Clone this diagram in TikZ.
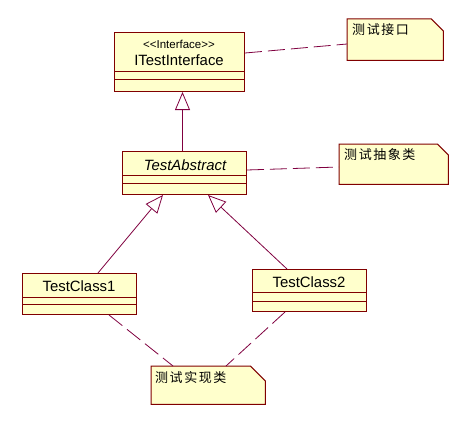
\documentclass[tikz,border=0pt]{standalone}
\usepackage{fontspec}
\setmainfont{Liberation Sans}
\newfontfamily\cjk[LetterSpace=12]{Noto Sans CJK SC}
\usetikzlibrary{arrows.meta}
\definecolor{umlfill}{RGB}{255,255,204}
\definecolor{umlborder}{RGB}{128,0,0}
\definecolor{umlline}{RGB}{128,0,64}
\tikzset{
  cls/.style={draw=umlborder, fill=umlfill, line width=1pt, inner sep=0pt, anchor=north west},
  comp/.style={draw=umlborder, line width=1pt},
  nm/.style={font=\fontsize{14.9}{16}\selectfont, text=black, inner sep=0pt},
  st/.style={font=\fontsize{11.5}{13}\selectfont, text=black, inner sep=0pt},
  noteframe/.style={draw=umlborder, fill=umlfill, line width=1pt},
  notearea/.style={inner sep=0pt, anchor=north west},
  notetxt/.style={font=\cjk\fontsize{13}{15}\selectfont, text=black, anchor=west, inner sep=0pt},
  gen/.style={draw=umlline, line width=0.8pt, -{Triangle[length=18pt,width=15pt,fill=white]}},
  noteline/.style={draw=umlline, line width=0.8pt, dash pattern=on 17pt off 6pt}
}
\newcommand\umlnote[2]{%
  \path[noteframe] (#1.north west) -- ([xshift=-#2]#1.north east) -- ([yshift=-#2]#1.north east)
    -- (#1.south east) -- (#1.south west) -- cycle;}
\begin{document}
\begin{tikzpicture}[x=1pt,y=-1pt]
\useasboundingbox (0,0) rectangle (471,428);
\fill[white] (0,0) rectangle (471,428);

% classes
\node[cls, minimum width=130pt, minimum height=59pt] (iface) at (114,32) {};
\draw[comp] ([yshift=-40pt]iface.north west) -- ([yshift=-40pt]iface.north east);
\draw[comp] ([yshift=-47pt]iface.north west) -- ([yshift=-47pt]iface.north east);
\node[st] (ifaceSt) at (179,44) {{<}{<}Interface{>}{>}};
\node[nm] (ifaceName) at (179,60.5) {ITestInterface};

\node[cls, minimum width=124pt, minimum height=43pt] (abs) at (122,151) {};
\draw[comp] ([yshift=-24pt]abs.north west) -- ([yshift=-24pt]abs.north east);
\draw[comp] ([yshift=-32pt]abs.north west) -- ([yshift=-32pt]abs.north east);
\node[nm, font=\fontsize{14.9}{16}\selectfont\itshape] (absName) at (185,165) {TestAbstract};

\node[cls, minimum width=114pt, minimum height=41pt] (tc1) at (22,273) {};
\draw[comp] ([yshift=-24pt]tc1.north west) -- ([yshift=-24pt]tc1.north east);
\draw[comp] ([yshift=-31pt]tc1.north west) -- ([yshift=-31pt]tc1.north east);
\node[nm] (tc1Name) at (79,286) {TestClass1};

\node[cls, minimum width=114pt, minimum height=42pt] (tc2) at (252,269) {};
\draw[comp] ([yshift=-23pt]tc2.north west) -- ([yshift=-23pt]tc2.north east);
\draw[comp] ([yshift=-32pt]tc2.north west) -- ([yshift=-32pt]tc2.north east);
\node[nm] (tc2Name) at (309,282) {TestClass2};

% notes
\node[notearea, minimum width=96pt, minimum height=41pt] (note1) at (347,19) {};
\umlnote{note1}{12pt}
\node[notetxt] (note1t) at (352,30) {测试接口};

\node[notearea, minimum width=109pt, minimum height=40pt] (note2) at (339,144) {};
\umlnote{note2}{11pt}
\node[notetxt] (note2t) at (344,155) {测试抽象类};

\node[notearea, minimum width=114pt, minimum height=38pt] (note3) at (151,366) {};
\umlnote{note3}{15pt}
\node[notetxt] (note3t) at (155,378) {测试实现类};

% generalizations
\draw[gen] ([xshift=-2pt]abs.north) -- ([xshift=3pt]iface.south);
\draw[gen] ([xshift=76pt]tc1.north west) -- ([xshift=41pt]abs.south west);
\draw[gen] ([xshift=35pt]tc2.north west) -- ([xshift=86pt]abs.south west);

% note anchors
\draw[noteline] ([yshift=-21pt]iface.north east) -- ([yshift=-25pt]note1.north west);
\draw[noteline] ([yshift=-19pt]abs.north east) -- ([yshift=-23pt]note2.north west);
\draw[noteline] ([xshift=87pt]tc1.south west) -- ([xshift=22pt]note3.north west);
\draw[noteline] ([xshift=33pt]tc2.south west) -- ([xshift=75pt]note3.north west);
\end{tikzpicture}
\end{document}
